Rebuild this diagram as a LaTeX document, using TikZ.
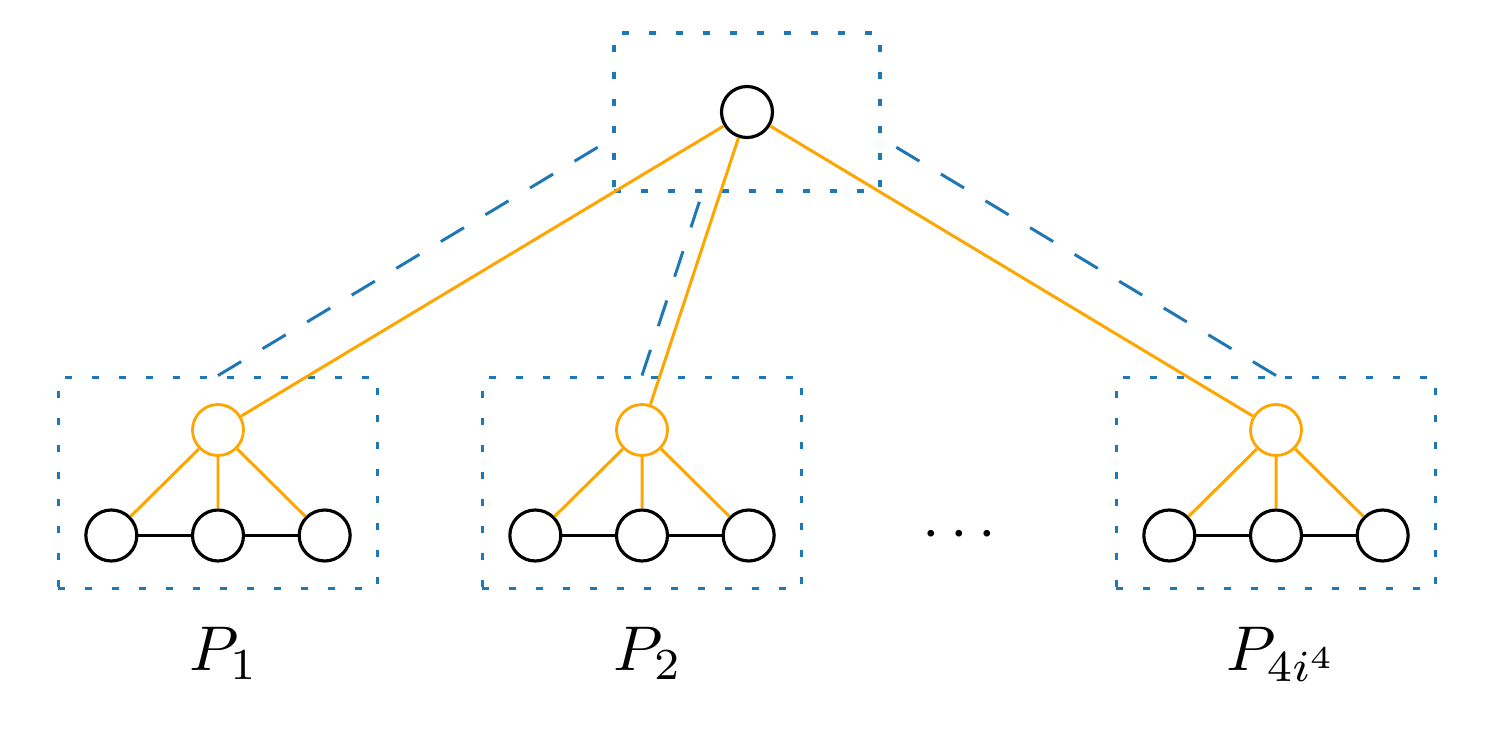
\documentclass[tikz,border=0pt]{standalone}
\usetikzlibrary{positioning,calc,fit}
\definecolor{tabblue}{RGB}{31,119,180}
\definecolor{taborange}{RGB}{255,165,0}

\begin{document}
\begin{tikzpicture}[
    vertex/.style={circle,draw,line width=1.8pt,minimum size=1.02cm,inner sep=0pt},
    rootvertex/.style={vertex,draw=taborange,line width=1.6pt},
    treeedge/.style={taborange,line width=1.7pt},
    pathedge/.style={black,line width=1.7pt},
    groupbox/.style={draw=tabblue,line width=1.8pt,dash pattern=on 0.14cm off 0.4cm,inner sep=0.52cm},
    linkedge/.style={tabblue,line width=1.7pt,dash pattern=on 0.54cm off 0.5cm},
    plabel/.style={scale=3.6,anchor=base}
  ]
  \useasboundingbox (0,0) rectangle (29.9,-15.08);

  \node [vertex] (top) at (14.94,-2.24) {};
  \node [groupbox,minimum width=5.32cm,minimum height=3.16cm] (topbox) at (top) {};

  \foreach \i/\x/\k/\name in {1/4.36/0.749/{P_1},2/12.84/0.585/{P_2},3/25.52/0.749/{P_{4i^4}}} {
    \node [rootvertex] (r\i) at (\x,-8.6) {};
    \node [vertex] (m\i) at (\x,-10.71) {};
    \node [vertex,left=1.05cm of m\i] (a\i) {};
    \node [vertex,right=1.05cm of m\i] (c\i) {};
    \node [groupbox,fit=(r\i)(a\i)(c\i)] (box\i) {};
    \node [plabel] (lab\i) at ($(box\i.south)+(0.12,-1.6)$) {$\name$};
    \draw [treeedge] (top) -- (r\i);
    \draw [treeedge] (r\i) -- (a\i) (r\i) -- (m\i) (r\i) -- (c\i);
    \draw [pathedge] (a\i) -- (m\i) -- (c\i);
    \coordinate (end\i) at ($(box\i.north)+\k*(top)-\k*(r\i)$);
    \draw [linkedge] (box\i.north) -- (end\i);
  }
  \node [scale=3.6] (dots) at ($(c2)!0.5!(a3)$) {$\cdots$};
\end{tikzpicture}
\end{document}
